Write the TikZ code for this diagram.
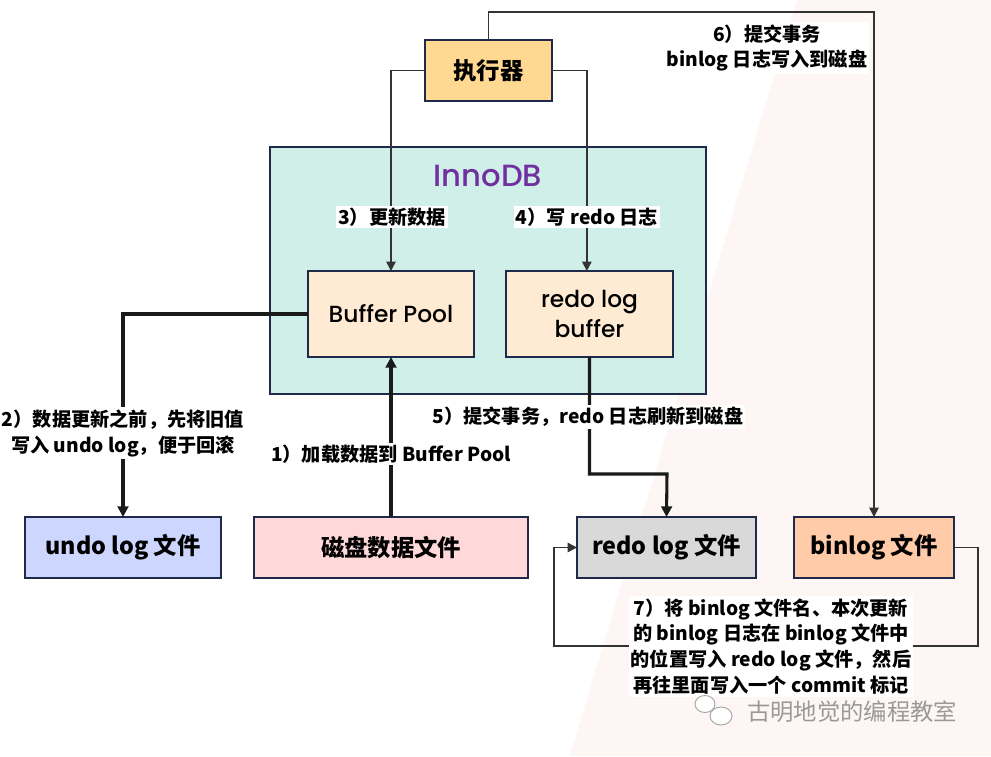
\documentclass[tikz,border=0pt]{standalone}
\usepackage{fontspec}
\setmainfont{Noto Sans CJK SC}
\newfontfamily\comic{Poppins Medium}
\usetikzlibrary{arrows.meta,calc}
\definecolor{edge}{HTML}{1F2A4A}
\definecolor{exefill}{HTML}{FFD991}
\definecolor{innofill}{HTML}{CFEFE8}
\definecolor{buffill}{HTML}{FFEBD3}
\definecolor{undofill}{HTML}{CCD6FE}
\definecolor{diskfill}{HTML}{FFD8DA}
\definecolor{redofill}{HTML}{D9D9D9}
\definecolor{binfill}{HTML}{FFCBA8}
\definecolor{purp}{HTML}{7030A0}
\definecolor{thinline}{HTML}{333333}
\definecolor{thickline}{HTML}{1A1A1A}
\definecolor{pinkbg}{HTML}{FEF6F5}
\tikzset{
  box/.style={draw=edge, line width=0.9pt, inner sep=0pt, outer sep=0pt, align=center, text=black},
  filebox/.style={box, minimum height=45.75pt, font=\fontsize{17.5}{20}\selectfont\bfseries},
  comictxt/.style={font=\comic\fontsize{17.5}{23}\selectfont},
  thinarrow/.style={draw=thinline, line width=1.2pt, -{Triangle[width=7pt,length=7pt]}},
  thickarrow/.style={draw=thickline, line width=2.3pt, -{Triangle[width=8pt,length=8pt]}},
  lbl/.style={fill=white, inner sep=1.5pt, align=center, font=\fontsize{14.4}{19.4}\selectfont\bfseries},
}
\begin{document}
\begin{tikzpicture}[x=0.75pt,y=-0.75pt]
\useasboundingbox (0,0) rectangle (991,756);
\fill[white] (0,0) rectangle (991,756);
\fill[pinkbg] (797,0) -- (991,0) -- (991,756) -- (570,756) -- cycle;

% InnoDB container
\node[box, fill=innofill, minimum width=327pt, minimum height=185.25pt] (inno) at (488,270.5) {};
\node[text=purp, font=\comic\fontsize{23}{26}\selectfont] (innot) at (488,176) {InnoDB};

% boxes
\node[filebox, fill=exefill, minimum width=95.25pt] (exe) at (488.5,70.5) {执行器};
\node[box, fill=buffill, comictxt, minimum width=124.5pt, minimum height=64.5pt] (bp) at (391,314) {Buffer Pool};
\node[box, fill=buffill, comictxt, minimum width=125.25pt, minimum height=64.5pt] (rb) at (589.5,314) {redo log\\buffer};
\node[filebox, fill=undofill, minimum width=147pt] (undo) at (123,547.5) {undo log 文件};
\node[filebox, fill=diskfill, minimum width=205.5pt] (disk) at (391,547.5) {磁盘数据文件};
\node[filebox, fill=redofill, minimum width=134.25pt] (redo) at (666.5,547.5) {redo log 文件};
\node[filebox, fill=binfill, minimum width=120pt] (binlog) at (874,547.5) {binlog 文件};

% helper coordinates
\coordinate (top) at (874,12);
\coordinate (m5) at (667,474);
\coordinate (c7a) at (978,646);
\coordinate (c7b) at (554,646);

% connectors
\draw[thinarrow] (exe.west) -| (bp.north);
\draw[thinarrow] (exe.east) -| ([xshift=-2]rb.north);
\draw[thinarrow] (exe.north) |- (top) -- (binlog.north);
\draw[thickarrow] (bp.west) -| (undo.north);
\draw[thickarrow] (disk.north) -- (bp.south);
\draw[thickarrow] (rb.south) |- (m5) -- (redo.north);
\draw[thinarrow] (binlog.east) -| (c7a) -- (c7b) |- (redo.west);

% labels
\node[lbl] (l3) at (392,217) {3）更新数据};
\node[lbl] (l4) at (587,217) {4）写 redo 日志};
\node[lbl] (l6) at (767,48) {6）提交事务\\binlog 日志写入到磁盘};
\node[lbl] (l2) at (123,433) {2）数据更新之前，先将旧值\\写入 undo log，便于回滚};
\node[lbl] (l1) at (391,454) {1）加载数据到 Buffer Pool};
\node[lbl] (l5) at (588,417) {5）提交事务，redo 日志刷新到磁盘};
\node[lbl] (l7) at (771,646.5) {7）将 binlog 文件名、本次更新\\的 binlog 日志在 binlog 文件中\\的位置写入 redo log 文件，然后\\再往里面写入一个 commit 标记};

% watermark
\draw[gray!70, line width=0.7pt, fill=white] (705,704) ellipse [x radius=10, y radius=8.5];
\draw[gray!70, line width=0.7pt, fill=white] (721,716) ellipse [x radius=11, y radius=9];
\node[text=gray!80, font=\fontsize{17.5}{20}\selectfont] (wm) at (852,712) {古明地觉的编程教室};
\end{tikzpicture}
\end{document}
